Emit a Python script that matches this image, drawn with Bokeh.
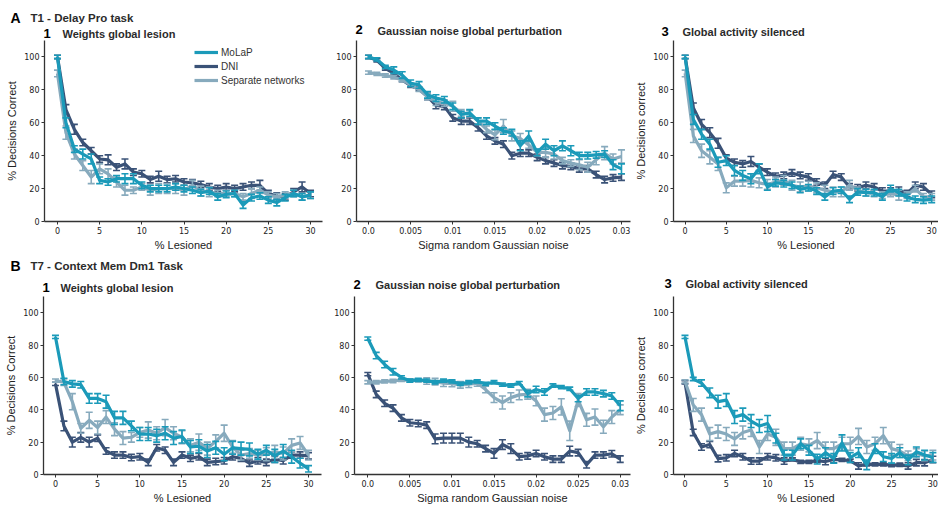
import math

from bokeh.plotting import figure
from bokeh.layouts import column, row
from bokeh.models import (Legend, LegendItem, FixedTicker, Range1d,
                          CustomJSTickFormatter)
from bokeh.core.properties import value
from bokeh.embed import file_html
from bokeh.resources import INLINE

# ---------------------------------------------------------------- data
lesion_pct = [0, 1, 2, 3, 4, 5, 6, 7, 8, 9, 10, 11, 12, 13, 14, 15,
              16, 17, 18, 19, 20, 21, 22, 23, 24, 25, 26, 27, 28, 29, 30]
sigma_noise = [0.0, 0.001, 0.002, 0.003, 0.004, 0.005, 0.006, 0.007, 0.008,
               0.009, 0.010, 0.011, 0.012, 0.013, 0.014, 0.015, 0.016, 0.017,
               0.018, 0.019, 0.020, 0.021, 0.022, 0.023, 0.024, 0.025, 0.026,
               0.027, 0.028, 0.029, 0.030]

lesion_ticks = [0, 5, 10, 15, 20, 25, 30]
sigma_ticks = [0.0, 0.005, 0.01, 0.015, 0.02, 0.025, 0.03]
y_ticks = [0, 20, 40, 60, 80, 100]

series_names = ["MoLaP", "DNI", "Separate networks"]
series_colors = {"MoLaP": "#1b9ab9", "DNI": "#3a5277", "Separate networks": "#87aabd"}

section_letters = ["A", "B"]
section_titles = ["T1 - Delay Pro task", "T7 - Context Mem Dm1 Task"]
panel_numbers = ["1", "2", "3"]
panel_titles = ["Weights global lesion", "Gaussian noise global perturbation",
                "Global activity silenced"]

# T1 - Delay Pro task
a1_molap = [100, 60, 44, 41, 38, 25, 24, 26, 26, 26, 22, 20, 20, 20, 21, 20,
            19, 17.5, 18.5, 15, 16.5, 17, 10, 14.5, 15.5, 13, 11.5, 14.5, 17, 15, 16]
a1_dni = [100, 68, 56, 48, 43, 38, 37.5, 33, 35, 30, 29, 25.5, 27.5, 25.5, 26, 24,
          23.5, 22.5, 21, 20, 21, 20, 21, 22, 22, 17, 15.5, 15, 18, 21, 17]
a1_sep = [90, 54, 41, 34, 27, 32, 29, 24, 19, 19, 21, 19, 20, 20, 20, 19,
          22, 18.5, 18, 17, 17, 17, 15, 17, 19, 16, 15, 16, 17, 15, 16]
a1_molap_err = [1, 3, 2, 3, 3, 2, 2, 2, 3, 3, 2, 2, 2, 2, 2, 2,
                2, 2, 2, 2, 2, 2, 2, 2, 2, 2, 2, 2, 2, 2, 2]
a1_dni_err = [1, 3, 3, 2, 2, 2, 3, 2, 3, 2, 2, 2, 3, 2, 2, 2,
              2, 2, 2, 2, 2, 2, 2, 2, 3, 2, 2, 2, 2, 3, 2]
a1_sep_err = [2, 4, 3, 3, 4, 3, 3, 3, 3, 2, 2, 3, 3, 3, 3, 3,
              3, 3, 3, 2, 2, 2, 2, 3, 2, 2, 2, 2, 2, 2, 2]

a2_molap = [100, 98.5, 94, 92, 89, 84, 83, 77, 75, 74, 70, 65, 66, 61, 61, 58,
            55, 54, 46, 52, 42, 47, 43, 46, 43, 40, 40, 40.5, 41, 34.5, 32]
a2_dni = [100, 98, 93, 90, 86, 82.5, 80.5, 76, 70.5, 70, 63, 61, 61, 57, 52, 49,
          47, 40, 41.5, 41.5, 39, 37, 35.5, 34, 33.5, 32, 32, 28.5, 25.5, 26.5, 27]
a2_sep = [90.5, 89.7, 88.7, 87.7, 86, 83, 80, 76, 72.5, 72, 70, 66, 65.5, 61, 56, 52.7,
          58, 52, 50.5, 46.5, 42, 42, 41, 37, 35.5, 34.5, 33, 37.5, 41.5, 38, 39.5]
a2_molap_err = [1, 1, 1, 2, 2, 2, 2, 2, 2, 2, 2, 2, 2, 2, 2, 2,
                2, 2, 3, 3, 2, 3, 3, 3, 3, 2, 2, 2, 2, 3, 3]
a2_dni_err = [1, 1, 1, 1, 1, 1, 1, 2, 2, 2, 2, 2, 2, 2, 2, 2,
              2, 2, 2, 2, 2, 2, 2, 2, 2, 2, 2, 2, 2, 2, 2]
a2_sep_err = [1, 1, 1, 1, 1, 1, 1, 2, 2, 2, 3, 2, 2, 2, 2, 3,
              4, 3, 3, 2, 2, 3, 3, 2, 2, 3, 3, 3, 4, 3, 4]

a3_molap = [100, 62, 53, 47, 36, 37, 31, 28, 26, 32, 21, 23.5, 23, 22, 19.5, 20.5,
            18.5, 15, 18.5, 19, 13.5, 18, 17.5, 17.5, 15, 20, 17.5, 14.5, 13.5, 13, 13.5]
a3_dni = [100, 69, 59, 54, 47.5, 38.5, 36, 35, 36.5, 33, 30, 27.5, 28, 29.5, 28, 27,
          24, 22, 28.5, 27, 21, 20.5, 22, 21, 18.5, 18.5, 19, 17, 22, 21, 16.5]
a3_sep = [90, 52, 43, 39, 35, 20.5, 24.5, 24.5, 25, 23.5, 22.5, 24, 25, 22, 21, 21.5,
          20.5, 19, 18, 18, 22, 19, 17.5, 17, 16, 17, 16, 16, 20, 15, 15]
a3_molap_err = [1, 3, 3, 3, 3, 3, 3, 3, 3, 3, 2, 2, 2, 2, 2, 2,
                2, 2, 2, 2, 2, 2, 2, 2, 2, 2, 2, 2, 2, 2, 2]
a3_dni_err = [1, 3, 3, 3, 3, 2, 2, 2, 3, 2, 2, 2, 2, 2, 2, 2,
              2, 2, 2, 2, 2, 2, 2, 2, 2, 2, 2, 2, 2, 2, 2]
a3_sep_err = [2, 4, 4, 4, 4, 3, 3, 3, 4, 3, 3, 3, 3, 3, 3, 3,
              3, 3, 3, 3, 3, 2, 2, 2, 2, 2, 3, 2, 2, 2, 2]

# T7 - Context Mem Dm1 Task
b1_molap = [85, 57.5, 56, 55.5, 47, 47, 45, 35, 35, 30, 25, 25, 24, 25.5, 22.5, 23.5,
            17, 17.5, 14.5, 16.5, 12.5, 16.5, 16, 15.5, 12.5, 15, 11.5, 14.5, 11, 7, 3.5]
b1_dni = [56, 30, 20, 23, 20, 22.5, 14.5, 12, 12, 10.5, 11, 7.5, 16.5, 15, 7.5, 12,
          10, 11, 7.5, 8, 8.5, 11, 10, 7, 8.5, 7.5, 9.5, 8.5, 12, 12, 11.5]
b1_sep = [58, 57, 45, 28.5, 33.5, 29, 35.5, 28, 22.5, 23, 26, 27.5, 25.5, 29, 25.5, 23,
          18, 20, 16, 20.5, 25.5, 17, 12, 13, 12, 12.5, 14, 13, 18, 19.5, 12]
b1_molap_err = [1, 2, 2, 2, 3, 3, 4, 4, 4, 3, 4, 4, 4, 4, 4, 4,
                4, 4, 4, 4, 4, 4, 4, 4, 3, 3, 4, 4, 4, 3, 2]
b1_dni_err = [1, 3, 3, 3, 3, 2, 2, 2, 2, 2, 2, 2, 2, 2, 2, 2,
              2, 2, 2, 2, 2, 2, 2, 2, 2, 2, 2, 2, 2, 2, 2]
b1_sep_err = [1, 2, 5, 3, 5, 4, 4, 4, 4, 3, 3, 5, 4, 5, 4, 4,
              4, 5, 4, 4, 5, 4, 3, 3, 3, 4, 4, 4, 4, 4, 3]

b2_molap = [84, 73.5, 68, 63.5, 60, 58, 58.5, 58, 57, 58, 57.5, 56, 57, 57.5, 56, 57,
            55.5, 55, 56.5, 50, 52.5, 51, 55, 54, 53, 47, 51, 51, 50, 48.5, 42.5]
b2_dni = [62, 49.5, 44, 41, 35, 32, 31.5, 30.5, 22, 22.5, 22.5, 22.5, 20, 19, 16, 13,
          18.5, 16, 11, 11.5, 13, 11, 9.5, 9.5, 14.5, 13.5, 6, 12, 12, 12.8, 9.5]
b2_sep = [57, 57, 57.5, 57.8, 58.5, 58.2, 58.2, 57.8, 57.4, 56.4, 56.2, 55.4, 55.8, 56.5, 52.5, 47.5,
          44.5, 47.5, 49.2, 49.6, 45.5, 37, 38, 41.8, 27, 46, 33.8, 35.5, 29.5, 35.5, 40]
b2_molap_err = [1, 2, 2, 2, 1, 1, 1, 1, 1, 1, 1, 1, 1, 1, 1, 1,
                1, 1, 1, 2, 2, 2, 1, 1, 1, 2, 2, 2, 2, 2, 3]
b2_dni_err = [1, 2, 2, 2, 2, 2, 2, 2, 3, 3, 3, 3, 3, 2, 2, 3,
              3, 3, 2, 2, 2, 2, 2, 2, 3, 2, 2, 2, 2, 2, 2]
b2_sep_err = [1, 1, 1, 1, 1, 1, 1, 2, 2, 2, 2, 2, 2, 2, 2, 3,
              4, 3, 3, 3, 3, 4, 4, 5, 6, 4, 4, 5, 4, 4, 3]

b3_molap = [85, 59, 56.5, 50.5, 45, 46, 35.5, 37, 33, 30, 31.5, 22.5, 12, 12, 19, 15,
            9.5, 13.5, 10, 19.5, 10.5, 13.5, 6, 16, 11, 10, 13.5, 9, 14, 12, 10.5]
b3_dni = [57, 26, 17, 18.5, 9.8, 10.3, 13, 11, 8.3, 8.3, 11, 10.3, 8.3, 9.3, 7.8, 7.8,
          8.5, 8, 9.3, 9, 8.5, 5.3, 6.3, 6.3, 6.3, 5.8, 6, 5.3, 7.3, 7.3, 9.3]
b3_sep = [57.5, 43, 37, 25, 26.5, 25, 22, 26, 27.5, 17, 25, 23, 16, 16, 19, 18,
          21, 16, 16, 19, 19, 23.5, 17, 19, 24, 16, 14.5, 11.5, 13, 11.5, 12]
b3_molap_err = [1, 1, 2, 3, 4, 4, 4, 4, 4, 4, 5, 3, 3, 3, 3, 3,
                3, 3, 3, 5, 3, 3, 3, 3, 3, 3, 3, 3, 3, 3, 3]
b3_dni_err = [1, 2, 2, 2, 2, 2, 2, 2, 2, 2, 2, 2, 2, 1, 1, 1,
              1, 2, 2, 1, 1, 2, 1, 1, 1, 1, 1, 2, 2, 2, 2]
b3_sep_err = [1, 4, 4, 4, 4, 4, 4, 4, 4, 4, 4, 5, 4, 4, 4, 4,
              5, 4, 4, 4, 4, 5, 4, 4, 5, 4, 4, 3, 3, 3, 3]

# ---------------------------------------------------------------- styling
HEAD_FONT = "Liberation Sans"
TICK_FONT = "DejaVu Sans"
INK = "#2b2b2b"
WIDTH = 938

sigma_formatter = CustomJSTickFormatter(
    code="return tick === 0 ? '0.0' : String(Math.round(tick * 1000) / 1000);")


def style_axes(p, xticks, xformatter, xlabel, ylabel):
    p.xaxis.ticker = FixedTicker(ticks=xticks)
    if xformatter is not None:
        p.xaxis.formatter = xformatter
    p.yaxis.ticker = FixedTicker(ticks=y_ticks)
    p.xaxis.axis_label = xlabel
    p.yaxis.axis_label = ylabel
    for ax in (p.xaxis[0], p.yaxis[0]):
        ax.axis_line_color = "#333333"
        ax.axis_line_width = 1.3
        ax.major_tick_line_color = "#333333"
        ax.major_tick_line_width = 1
        ax.major_tick_out = 3
        ax.major_tick_in = 0
        ax.minor_tick_line_color = None
        ax.major_label_text_font = TICK_FONT
        ax.major_label_text_font_size = "8px"
        ax.major_label_text_color = "#222222"
        ax.major_label_standoff = 2
        ax.axis_label_text_font = HEAD_FONT
        ax.axis_label_text_font_size = "11px"
        ax.axis_label_text_font_style = "normal"
        ax.axis_label_text_color = "#222222"
        ax.axis_label_standoff = 3
    p.xaxis.axis_label_standoff = 2
    p.xgrid.visible = False
    p.ygrid.visible = False
    p.outline_line_color = None


def header(height, letter, title, letter_pos, number_pos, title_pos):
    """A strip of bold headings drawn in pixel-like coordinates."""
    h = figure(width=WIDTH, height=height, x_range=Range1d(0, WIDTH),
               y_range=Range1d(height, 0), output_backend="svg",
               toolbar_location=None, min_border=0)
    h.axis.visible = False
    h.xgrid.visible = False
    h.ygrid.visible = False
    h.outline_line_color = None
    common = dict(text_font=value(HEAD_FONT), text_font_style="bold",
                  text_baseline="middle", text_align="left")
    h.text(x=[letter_pos[0]], y=[letter_pos[1]], text=[letter],
           text_font_size="14px", text_color="#000000", **common)
    h.text(x=[letter_pos[2]], y=[letter_pos[1]], text=[title],
           text_font_size="11.5px", text_color=INK, **common)
    h.text(x=[p[0] for p in number_pos], y=[p[1] for p in number_pos],
           text=panel_numbers, text_font_size="13px", text_color="#000000", **common)
    h.text(x=[p[0] for p in title_pos], y=[p[1] for p in title_pos],
           text=panel_titles, text_font_size="11px", text_color=INK, **common)
    return h


def panel(xvals, values, errors, x_range, width, height, mbl, mbr, mbb,
          xticks, xformatter, xlabel, ylabel):
    p = figure(width=width, height=height, x_range=Range1d(*x_range),
               y_range=Range1d(0, 110), output_backend="svg",
               toolbar_location=None, min_border_left=mbl,
               min_border_right=mbr, min_border_top=0,
               min_border_bottom=mbb, background_fill_color="white",
               border_fill_color="white")
    style_axes(p, xticks, xformatter, xlabel, ylabel)
    line_renderers = {}
    for name in ["DNI", "Separate networks", "MoLaP"]:
        c = series_colors[name]
        ys = values[name]
        es = errors[name]
        lo = [y - e for y, e in zip(ys, es)]
        hi = [y + e for y, e in zip(ys, es)]
        p.segment(x0=xvals, y0=lo, x1=xvals, y1=hi, line_color=c, line_width=1.6)
        p.scatter(x=xvals + xvals, y=lo + hi, marker="dash", size=7,
                  line_color=c, line_width=1.6)
        line_renderers[name] = p.line(xvals, ys, line_color=c, line_width=3.2,
                                      line_join="round")
    return p, line_renderers


def series(m, d, s):
    return {"MoLaP": m, "DNI": d, "Separate networks": s}


# ---------------------------------------------------------------- row A
head_a = header(40, section_letters[0], section_titles[0],
                (10, 17, 30), [(43, 33), (355, 29), (661, 31)],
                [(62, 33), (377, 30), (682, 31)])

TOP_H, TOP_B = 213, 31

pA1, linesA1 = panel(lesion_pct, series(a1_molap, a1_dni, a1_sep),
                     series(a1_molap_err, a1_dni_err, a1_sep_err),
                     (-1.54, 31.42), 324, TOP_H, 44, 2, TOP_B,
                     lesion_ticks, None, "% Lesioned", "% Decisions Correct")

legend = Legend(items=[LegendItem(label=n, renderers=[linesA1[n]])
                       for n in series_names],
                location=(150, 134), padding=0, spacing=0, margin=0,
                label_height=14, glyph_height=14, glyph_width=24,
                label_standoff=3, background_fill_alpha=0,
                border_line_color=None, label_text_font=HEAD_FONT,
                label_text_font_size="10px", label_text_color="#333333")
pA1.add_layout(legend)

pA2, _ = panel(sigma_noise, series(a2_molap, a2_dni, a2_sep),
               series(a2_molap_err, a2_dni_err, a2_sep_err),
               (-0.00142, 0.03107), 308, TOP_H, 32, 2, TOP_B,
               sigma_ticks, sigma_formatter, "Sigma random Gaussian noise", None)

pA3, _ = panel(lesion_pct, series(a3_molap, a3_dni, a3_sep),
               series(a3_molap_err, a3_dni_err, a3_sep_err),
               (-1.42, 30.83), 306, TOP_H, 34, 0, TOP_B,
               lesion_ticks, None, "% Lesioned", "% Decisions correct")

# ---------------------------------------------------------------- row B
head_b = header(43, section_letters[1], section_titles[1],
                (10, 12, 30), [(42, 34), (353, 31), (664, 30)],
                [(60, 34), (375, 31), (685, 30)])

BOT_H, BOT_B = 210, 27

pB1, _ = panel(lesion_pct, series(b1_molap, b1_dni, b1_sep),
               series(b1_molap_err, b1_dni_err, b1_sep_err),
               (-1.42, 31.54), 324, BOT_H, 43, 3, BOT_B,
               lesion_ticks, None, "% Lesioned", "% Decisions Correct")

pB2, _ = panel(sigma_noise, series(b2_molap, b2_dni, b2_sep),
               series(b2_molap_err, b2_dni_err, b2_sep_err),
               (-0.00158, 0.03122), 308, BOT_H, 30, 2, BOT_B,
               sigma_ticks, sigma_formatter, "Sigma random Gaussian noise", None)

pB3, _ = panel(lesion_pct, series(b3_molap, b3_dni, b3_sep),
               series(b3_molap_err, b3_dni_err, b3_sep_err),
               (-1.39, 30.68), 306, BOT_H, 36, 0, BOT_B,
               lesion_ticks, None, "% Lesioned", "% Decisions correct")

layout = column(head_a, row(pA1, pA2, pA3), head_b, row(pB1, pB2, pB3),
                spacing=0)

with open("out.html", "w") as f:
    f.write(file_html(layout, INLINE))
